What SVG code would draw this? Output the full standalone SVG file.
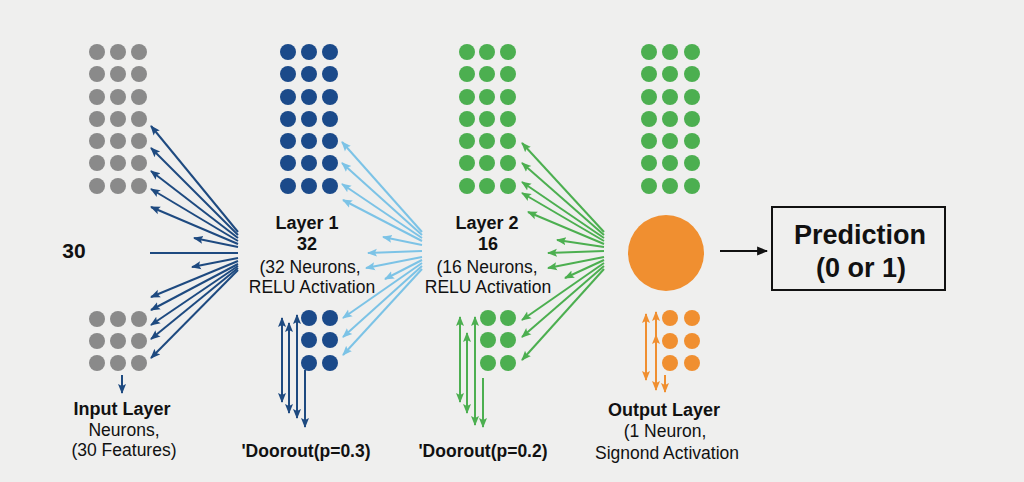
<svg xmlns="http://www.w3.org/2000/svg" width="1024" height="482" viewBox="0 0 1024 482">
  <style>
    text { font-family: "Liberation Sans", Arial, sans-serif; fill: #111; text-anchor: middle; }
    .b { font-weight: bold; }
    .t17 { font-size: 17.5px; }
    .t18 { font-size: 18px; }
    .gray { fill: #8a8a8a; }
    .navy { fill: #1b4a8a; }
    .grn { fill: #4caf50; }
    .org { fill: #f08f30; }
    .cNavy { stroke: #1e4a80; stroke-width: 2; fill: none; marker-end: url(#mNavy); }
    .cBlue { stroke: #7cc3e6; stroke-width: 2; fill: none; marker-end: url(#mBlue); }
    .cGrn { stroke: #4caf50; stroke-width: 2; fill: none; marker-end: url(#mGrn); }
    .cOrg { stroke: #f08f30; stroke-width: 2; fill: none; marker-end: url(#mOrg); }
  </style>
  <defs>
    <marker id="mNavy" viewBox="0 0 10 10" refX="9" refY="5" markerWidth="10" markerHeight="10" markerUnits="userSpaceOnUse" orient="auto-start-reverse"><path d="M0,1 L10,5 L0,9 L2,5 z" fill="#1e4a80"/></marker>
    <marker id="mBlue" viewBox="0 0 10 10" refX="9" refY="5" markerWidth="10" markerHeight="10" markerUnits="userSpaceOnUse" orient="auto-start-reverse"><path d="M0,1 L10,5 L0,9 L2,5 z" fill="#7cc3e6"/></marker>
    <marker id="mGrn" viewBox="0 0 10 10" refX="9" refY="5" markerWidth="10" markerHeight="10" markerUnits="userSpaceOnUse" orient="auto-start-reverse"><path d="M0,1 L10,5 L0,9 L2,5 z" fill="#4caf50"/></marker>
    <marker id="mOrg" viewBox="0 0 10 10" refX="9" refY="5" markerWidth="10" markerHeight="10" markerUnits="userSpaceOnUse" orient="auto-start-reverse"><path d="M0,1 L10,5 L0,9 L2,5 z" fill="#f08f30"/></marker>
    <marker id="mBlk" viewBox="0 0 10 10" refX="9" refY="5" markerWidth="11" markerHeight="11" markerUnits="userSpaceOnUse" orient="auto"><path d="M0,1 L10,5 L0,9 z" fill="#111"/></marker>
  </defs>
  <rect width="1024" height="482" fill="#efefee"/>

  <g id="input-layer">
    <g class="gray">
      <circle cx="97" cy="52" r="8"/><circle cx="118" cy="52" r="8"/><circle cx="139" cy="52" r="8"/>
      <circle cx="97" cy="74" r="8"/><circle cx="118" cy="74" r="8"/><circle cx="139" cy="74" r="8"/>
      <circle cx="97" cy="97" r="8"/><circle cx="118" cy="97" r="8"/><circle cx="139" cy="97" r="8"/>
      <circle cx="97" cy="119" r="8"/><circle cx="118" cy="119" r="8"/><circle cx="139" cy="119" r="8"/>
      <circle cx="97" cy="141" r="8"/><circle cx="118" cy="141" r="8"/><circle cx="139" cy="141" r="8"/>
      <circle cx="97" cy="163" r="8"/><circle cx="118" cy="163" r="8"/><circle cx="139" cy="163" r="8"/>
      <circle cx="97" cy="186" r="8"/><circle cx="118" cy="186" r="8"/><circle cx="139" cy="186" r="8"/>
      <circle cx="97" cy="319" r="8"/><circle cx="118" cy="319" r="8"/><circle cx="139" cy="319" r="8"/>
      <circle cx="97" cy="341" r="8"/><circle cx="118" cy="341" r="8"/><circle cx="139" cy="341" r="8"/>
      <circle cx="97" cy="363" r="8"/><circle cx="118" cy="363" r="8"/><circle cx="139" cy="363" r="8"/>
    </g>
    <text x="74" y="258" class="b" style="font-size:21px">30</text>
    <text x="122" y="415" class="b t18">Input Layer</text>
    <text x="124" y="436" class="t17">Neurons,</text>
    <text x="124" y="456" class="t17">(30 Features)</text>
  </g>

  <g id="layer1">
    <g class="navy">
      <circle cx="288" cy="52" r="8"/><circle cx="309" cy="52" r="8"/><circle cx="330" cy="52" r="8"/>
      <circle cx="288" cy="74" r="8"/><circle cx="309" cy="74" r="8"/><circle cx="330" cy="74" r="8"/>
      <circle cx="288" cy="97" r="8"/><circle cx="309" cy="97" r="8"/><circle cx="330" cy="97" r="8"/>
      <circle cx="288" cy="119" r="8"/><circle cx="309" cy="119" r="8"/><circle cx="330" cy="119" r="8"/>
      <circle cx="288" cy="141" r="8"/><circle cx="309" cy="141" r="8"/><circle cx="330" cy="141" r="8"/>
      <circle cx="288" cy="163" r="8"/><circle cx="309" cy="163" r="8"/><circle cx="330" cy="163" r="8"/>
      <circle cx="288" cy="186" r="8"/><circle cx="309" cy="186" r="8"/><circle cx="330" cy="186" r="8"/>
      <circle cx="309" cy="318" r="8"/><circle cx="330" cy="318" r="8"/>
      <circle cx="309" cy="340" r="8"/><circle cx="330" cy="340" r="8"/>
      <circle cx="309" cy="363" r="8"/><circle cx="330" cy="363" r="8"/>
    </g>
    <text x="307" y="229" class="b t18">Layer 1</text>
    <text x="307" y="250" class="b t18">32</text>
    <text x="310" y="273" class="t17">(32 Neurons,</text>
    <text x="312" y="293" class="t17">RELU Activation</text>
    <text x="306" y="457" class="b" style="font-size:17.5px">'Doorout(p=0.3)</text>
  </g>

  <g id="layer2">
    <g class="grn">
      <circle cx="467" cy="52" r="8"/><circle cx="487" cy="52" r="8"/><circle cx="508" cy="52" r="8"/>
      <circle cx="467" cy="74" r="8"/><circle cx="487" cy="74" r="8"/><circle cx="508" cy="74" r="8"/>
      <circle cx="467" cy="97" r="8"/><circle cx="487" cy="97" r="8"/><circle cx="508" cy="97" r="8"/>
      <circle cx="467" cy="119" r="8"/><circle cx="487" cy="119" r="8"/><circle cx="508" cy="119" r="8"/>
      <circle cx="467" cy="141" r="8"/><circle cx="487" cy="141" r="8"/><circle cx="508" cy="141" r="8"/>
      <circle cx="467" cy="163" r="8"/><circle cx="487" cy="163" r="8"/><circle cx="508" cy="163" r="8"/>
      <circle cx="467" cy="186" r="8"/><circle cx="487" cy="186" r="8"/><circle cx="508" cy="186" r="8"/>
      <circle cx="488" cy="318" r="8"/><circle cx="508" cy="318" r="8"/>
      <circle cx="488" cy="340" r="8"/><circle cx="508" cy="340" r="8"/>
      <circle cx="488" cy="363" r="8"/><circle cx="508" cy="363" r="8"/>
    </g>
    <text x="487" y="229" class="b t18">Layer 2</text>
    <text x="488" y="250" class="b t18">16</text>
    <text x="487" y="273" class="t17">(16 Neurons,</text>
    <text x="488" y="293" class="t17">RELU Activation</text>
    <text x="483" y="457" class="b" style="font-size:17.5px">'Doorout(p=0.2)</text>
  </g>

  <g id="output-layer">
    <g class="grn">
      <circle cx="649" cy="52" r="8"/><circle cx="670" cy="52" r="8"/><circle cx="692" cy="52" r="8"/>
      <circle cx="649" cy="74" r="8"/><circle cx="670" cy="74" r="8"/><circle cx="692" cy="74" r="8"/>
      <circle cx="649" cy="97" r="8"/><circle cx="670" cy="97" r="8"/><circle cx="692" cy="97" r="8"/>
      <circle cx="649" cy="119" r="8"/><circle cx="670" cy="119" r="8"/><circle cx="692" cy="119" r="8"/>
      <circle cx="649" cy="141" r="8"/><circle cx="670" cy="141" r="8"/><circle cx="692" cy="141" r="8"/>
      <circle cx="649" cy="163" r="8"/><circle cx="670" cy="163" r="8"/><circle cx="692" cy="163" r="8"/>
      <circle cx="649" cy="186" r="8"/><circle cx="670" cy="186" r="8"/><circle cx="692" cy="186" r="8"/>
    </g>
    <circle cx="666" cy="253" r="38" class="org"/>
    <g class="org">
      <circle cx="670" cy="318" r="8"/><circle cx="692" cy="318" r="8"/>
      <circle cx="670" cy="341" r="8"/><circle cx="692" cy="341" r="8"/>
      <circle cx="670" cy="363" r="8"/><circle cx="692" cy="363" r="8"/>
    </g>
    <text x="664" y="416" class="b t18">Output Layer</text>
    <text x="665" y="437" class="t17">(1 Neuron,</text>
    <text x="667" y="459" class="t17">Signond Activation</text>
  </g>

  <g id="prediction">
    <rect x="772" y="207" width="173" height="83" fill="none" stroke="#111" stroke-width="2"/>
    <text x="860" y="244" class="b" style="font-size:27px">Prediction</text>
    <text x="861" y="277" class="b" style="font-size:27px">(0 or 1)</text>
  </g>

  <g id="connectors">
    <line class="cNavy" x1="238" y1="232" x2="151" y2="126"/>
    <line class="cNavy" x1="238" y1="235" x2="151" y2="148"/>
    <line class="cNavy" x1="238" y1="238" x2="151" y2="171"/>
    <line class="cNavy" x1="238" y1="241" x2="151" y2="189"/>
    <line class="cNavy" x1="238" y1="244" x2="151" y2="207"/>
    <line class="cNavy" x1="238" y1="247" x2="194" y2="238"/>
    <line x1="150" y1="253" x2="238" y2="253" stroke="#1e4a80" stroke-width="2"/>
    <line class="cNavy" x1="238" y1="258" x2="192" y2="267"/>
    <line class="cNavy" x1="238" y1="261" x2="151" y2="297"/>
    <line class="cNavy" x1="238" y1="264" x2="151" y2="310"/>
    <line class="cNavy" x1="238" y1="266" x2="151" y2="325"/>
    <line class="cNavy" x1="238" y1="268" x2="151" y2="339"/>
    <line class="cNavy" x1="238" y1="270" x2="151" y2="358"/>
    <line class="cNavy" x1="122" y1="375" x2="122" y2="393"/>
    <line class="cBlue" x1="422" y1="232" x2="342" y2="142"/>
    <line class="cBlue" x1="422" y1="235" x2="342" y2="163"/>
    <line class="cBlue" x1="422" y1="238" x2="342" y2="184"/>
    <line class="cBlue" x1="422" y1="241" x2="343" y2="200"/>
    <line class="cBlue" x1="422" y1="245" x2="383" y2="237"/>
    <line class="cBlue" x1="422" y1="251" x2="368" y2="253"/>
    <line class="cBlue" x1="422" y1="257" x2="366" y2="268"/>
    <line class="cBlue" x1="422" y1="260" x2="385" y2="279"/>
    <line class="cBlue" x1="422" y1="263" x2="343" y2="318"/>
    <line class="cBlue" x1="422" y1="266" x2="343" y2="337"/>
    <line class="cBlue" x1="422" y1="269" x2="343" y2="355"/>
    <line class="cNavy" x1="282" y1="318" x2="282" y2="402" style="marker-start:url(#mNavy)"/>
    <line class="cNavy" x1="289" y1="323" x2="289" y2="413" style="marker-start:url(#mNavy)"/>
    <line class="cNavy" x1="297" y1="315" x2="297" y2="418" style="marker-start:url(#mNavy)"/>
    <line class="cNavy" x1="305" y1="370" x2="305" y2="427"/>
    <line class="cGrn" x1="604" y1="232" x2="522" y2="143"/>
    <line class="cGrn" x1="604" y1="235" x2="522" y2="163"/>
    <line class="cGrn" x1="604" y1="238" x2="522" y2="182"/>
    <line class="cGrn" x1="604" y1="241" x2="522" y2="193"/>
    <line class="cGrn" x1="604" y1="244" x2="528" y2="212"/>
    <line class="cGrn" x1="604" y1="247" x2="557" y2="240"/>
    <line class="cGrn" x1="604" y1="251" x2="548" y2="253"/>
    <line class="cGrn" x1="604" y1="257" x2="548" y2="268"/>
    <line class="cGrn" x1="604" y1="260" x2="565" y2="278"/>
    <line class="cGrn" x1="604" y1="263" x2="522" y2="320"/>
    <line class="cGrn" x1="604" y1="266" x2="522" y2="337"/>
    <line class="cGrn" x1="604" y1="269" x2="522" y2="360"/>
    <line class="cGrn" x1="460" y1="317" x2="460" y2="402" style="marker-start:url(#mGrn)"/>
    <line class="cGrn" x1="467" y1="333" x2="467" y2="413" style="marker-start:url(#mGrn)"/>
    <line class="cGrn" x1="475" y1="317" x2="475" y2="425" style="marker-start:url(#mGrn)"/>
    <line class="cGrn" x1="483" y1="378" x2="483" y2="427"/>
    <line class="cOrg" x1="646" y1="314" x2="646" y2="380" style="marker-start:url(#mOrg)"/>
    <line class="cOrg" x1="656" y1="312" x2="656" y2="390" style="marker-start:url(#mOrg)"/>
    <line class="cOrg" x1="656" y1="345" x2="656" y2="335"/>
    <line class="cOrg" x1="665" y1="375" x2="665" y2="392"/>
    <line x1="720" y1="251" x2="767" y2="251" stroke="#111" stroke-width="2" marker-end="url(#mBlk)"/>
  </g>
</svg>
